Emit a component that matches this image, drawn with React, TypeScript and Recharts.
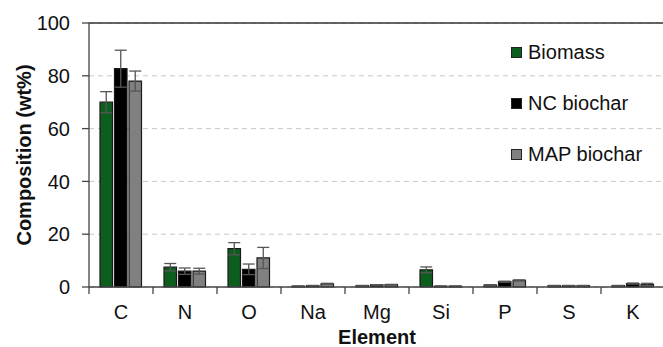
import { BarChart, Bar, XAxis, YAxis, CartesianGrid, ErrorBar, ReferenceLine } from 'recharts'

const elements = ['C', 'N', 'O', 'Na', 'Mg', 'Si', 'P', 'S', 'K']
const biomass = [70, 7.5, 14.5, 0.3, 0.5, 6.5, 0.7, 0.5, 0.5]
const biomassErr = [4, 1.4, 2.3, 0.1, 0.1, 1.1, 0.2, 0.1, 0.1]
const ncBiochar = [82.7, 6, 6.7, 0.5, 0.8, 0.3, 2.0, 0.5, 1.3]
const ncBiocharErr = [7, 1.2, 2, 0.1, 0.1, 0.1, 0.2, 0.1, 0.2]
const mapBiochar = [78, 6, 11, 1.2, 0.9, 0.3, 2.5, 0.5, 1.0]
const mapBiocharErr = [3.8, 1.1, 4, 0.2, 0.1, 0.1, 0.2, 0.1, 0.4]
const yTicks = [0, 20, 40, 60, 80, 100]

const data = elements.map((el, i) => ({
  el,
  biomass: biomass[i],
  biomassErr: biomassErr[i],
  nc: ncBiochar[i],
  ncErr: ncBiocharErr[i],
  map: mapBiochar[i],
  mapErr: mapBiocharErr[i],
}))

const FONT = 'Liberation Sans, Arial, sans-serif'
const CHART_W = 665
const CHART_H = 347
const PLOT_LEFT = 89
const STEP = (CHART_W - PLOT_LEFT) / elements.length

const LEGEND_ITEMS = [
  { name: 'Biomass', color: '#0b5e1e' },
  { name: 'NC biochar', color: '#000000' },
  { name: 'MAP biochar', color: '#808080' },
]

function ElementTick(props: any) {
  const { x, y, payload } = props
  return (
    <g>
      <line x1={x - STEP / 2} x2={x - STEP / 2} y1={y - 8} y2={y - 1} stroke="#444" strokeWidth={1.3} />
      <text x={x} y={y + 24} textAnchor="middle" fontSize={20} fontFamily={FONT} fill="#111">
        {payload.value}
      </text>
    </g>
  )
}

function YLabel(props: any) {
  const vb = props.viewBox
  const cy = vb.y + vb.height / 2
  return (
    <text
      x={24}
      y={cy}
      transform={`rotate(-90, 24, ${cy})`}
      textAnchor="middle"
      dominantBaseline="central"
      fontSize={20}
      fontWeight="bold"
      fontFamily={FONT}
      fill="#111"
    >
      Composition (wt%)
    </text>
  )
}

// legend drawn as an overlay so it doesn't eat plot width
function LegendBox() {
  return (
    <div style={{ position: 'absolute', left: 511, top: 40, fontFamily: FONT, fontSize: 20, color: '#111' }}>
      {LEGEND_ITEMS.map((it) => (
        <div key={it.name} style={{ display: 'flex', alignItems: 'center', height: 24, marginBottom: 27 }}>
          <span
            style={{
              display: 'inline-block',
              width: 9,
              height: 9,
              background: it.color,
              border: '1px solid #222',
              marginRight: 6,
            }}
          />
          {it.name}
        </div>
      ))}
    </div>
  )
}

export default function App() {
  return (
    <div style={{ position: 'absolute', left: 0, top: 0, width: 663, height: 347, overflow: 'hidden', background: '#fff' }}>
      <BarChart
        width={CHART_W}
        height={CHART_H}
        data={data}
        margin={{ top: 23, right: 0, left: 0, bottom: 0 }}
        barSize={12.5}
        barGap={2}
      >
        <CartesianGrid vertical={false} horizontal stroke="#c8c8c8" strokeDasharray="5 4" />
        <ReferenceLine y={100} stroke="#333" strokeWidth={1.3} />
        <XAxis
          dataKey="el"
          tickLine={false}
          axisLine={{ stroke: '#444', strokeWidth: 1.3 }}
          tick={<ElementTick />}
          height={60}
          interval={0}
          label={{ value: 'Element', position: 'insideBottom', offset: 3, fontSize: 20, fontWeight: 'bold', fontFamily: FONT, fill: '#111' }}
        />
        <YAxis
          domain={[0, 100]}
          ticks={yTicks}
          width={PLOT_LEFT}
          tickSize={7}
          tickMargin={12}
          tickLine={{ stroke: '#444', strokeWidth: 1.3 }}
          axisLine={{ stroke: '#444', strokeWidth: 1.3 }}
          tick={{ fontSize: 20, fontFamily: FONT, fill: '#111' }}
          label={<YLabel />}
        />
        <Bar dataKey="biomass" name="Biomass" fill="#0b5e1e" stroke="#1a1a1a" strokeWidth={1.2} isAnimationActive={false}>
          <ErrorBar dataKey="biomassErr" width={6} stroke="#555" strokeWidth={1.3} />
        </Bar>
        <Bar dataKey="nc" name="NC biochar" fill="#000000" stroke="#1a1a1a" strokeWidth={1.2} isAnimationActive={false}>
          <ErrorBar dataKey="ncErr" width={6} stroke="#555" strokeWidth={1.3} />
        </Bar>
        <Bar dataKey="map" name="MAP biochar" fill="#808080" stroke="#1a1a1a" strokeWidth={1.2} isAnimationActive={false}>
          <ErrorBar dataKey="mapErr" width={6} stroke="#555" strokeWidth={1.3} />
        </Bar>
      </BarChart>
      <LegendBox />
    </div>
  )
}
